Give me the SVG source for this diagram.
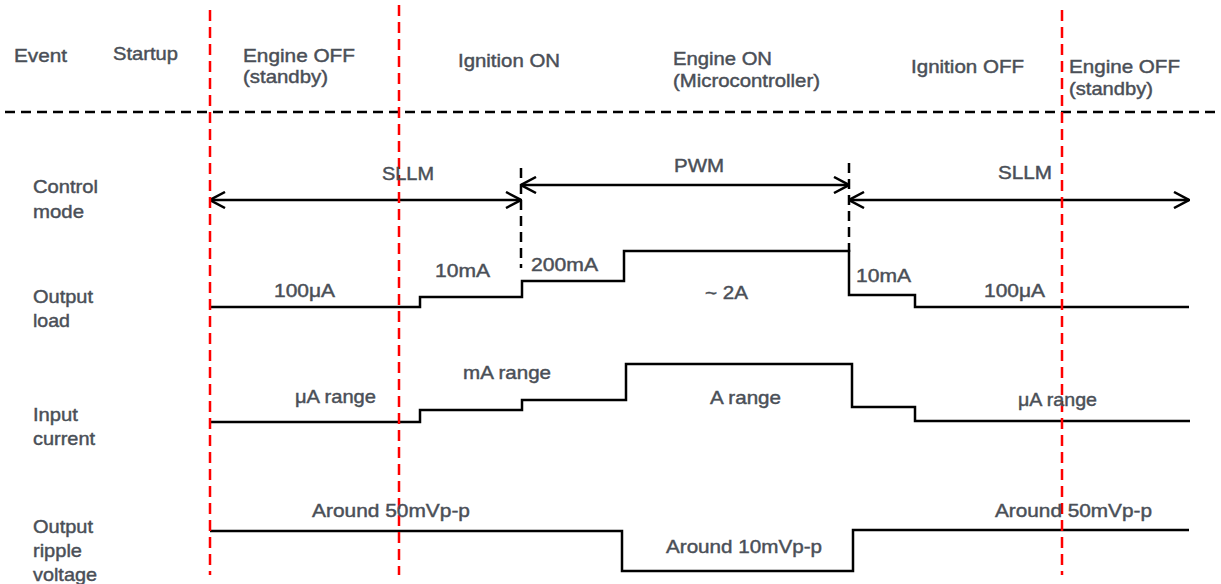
<svg xmlns="http://www.w3.org/2000/svg" width="1221" height="584" viewBox="0 0 1221 584">
<style>
text{font-family:"Liberation Sans",Arial,sans-serif;font-size:19px;fill:#4a4f57;stroke:#4a4f57;stroke-width:0.45}
.red{stroke:#ff0000;stroke-width:2.5;stroke-dasharray:11 6;fill:none}
.bd{stroke:#000;stroke-width:2.5;stroke-dasharray:10 6;fill:none}
.w{stroke:#000;stroke-width:2.5;fill:none}
.ar{stroke:#000;stroke-width:2.5;fill:none;marker-start:url(#a);marker-end:url(#a)}
</style>
<defs>
<marker id="a" viewBox="0 0 17 18" refX="16" refY="9" markerWidth="17" markerHeight="18" markerUnits="userSpaceOnUse" orient="auto-start-reverse">
<path d="M1,1 L16,9 L1,17" fill="none" stroke="#000" stroke-width="2.5"/>
</marker>
</defs>
<rect width="1221" height="584" fill="#fff"/>
<g id="header">
<text x="14" y="62" textLength="53" lengthAdjust="spacingAndGlyphs">Event</text>
<text x="113" y="60" textLength="65" lengthAdjust="spacingAndGlyphs">Startup</text>
<text x="243" y="62" textLength="112" lengthAdjust="spacingAndGlyphs">Engine OFF</text>
<text x="243" y="83" textLength="85" lengthAdjust="spacingAndGlyphs">(standby)</text>
<text x="458" y="67" textLength="102" lengthAdjust="spacingAndGlyphs">Ignition ON</text>
<text x="673" y="65" textLength="99" lengthAdjust="spacingAndGlyphs">Engine ON</text>
<text x="673" y="87" textLength="147" lengthAdjust="spacingAndGlyphs">(Microcontroller)</text>
<text x="911" y="73" textLength="113" lengthAdjust="spacingAndGlyphs">Ignition OFF</text>
<text x="1069" y="73" textLength="111" lengthAdjust="spacingAndGlyphs">Engine OFF</text>
<text x="1069" y="95" textLength="84" lengthAdjust="spacingAndGlyphs">(standby)</text>
</g>
<g id="row-labels">
<text x="33" y="193" textLength="65" lengthAdjust="spacingAndGlyphs">Control</text>
<text x="33" y="218" textLength="51" lengthAdjust="spacingAndGlyphs">mode</text>
<text x="33" y="303" textLength="60" lengthAdjust="spacingAndGlyphs">Output</text>
<text x="33" y="327" textLength="37" lengthAdjust="spacingAndGlyphs">load</text>
<text x="33" y="421" textLength="45" lengthAdjust="spacingAndGlyphs">Input</text>
<text x="33" y="445" textLength="62" lengthAdjust="spacingAndGlyphs">current</text>
<text x="33" y="533" textLength="60" lengthAdjust="spacingAndGlyphs">Output</text>
<text x="33" y="557" textLength="49" lengthAdjust="spacingAndGlyphs">ripple</text>
<text x="33" y="581" textLength="64" lengthAdjust="spacingAndGlyphs">voltage</text>
</g>
<g id="connectors">
<line class="bd" x1="5" y1="112" x2="1221" y2="112"/>
<line class="bd" x1="521" y1="168" x2="521" y2="268"/>
<line class="bd" x1="849" y1="163" x2="849" y2="252"/>
<line class="ar" x1="210" y1="200" x2="521" y2="200"/>
<line class="ar" x1="521" y1="185" x2="849" y2="185"/>
<line class="ar" x1="849" y1="200" x2="1189" y2="200"/>
<polyline class="w" points="210,307 420,307 420,297 522,297 522,281 624,281 624,251 849,251 849,295 915,295 915,307 1189,307"/>
<polyline class="w" points="210,422 420,422 420,410 522,410 522,400 626,400 626,364 852,364 852,407 915,407 915,421 1190,421"/>
<polyline class="w" points="210,531 622,531 622,571 853,571 853,530 1189,530"/>
<line class="red" x1="210" y1="10" x2="210" y2="575"/>
<line class="red" x1="399" y1="5" x2="399" y2="575"/>
<line class="red" x1="1062" y1="10" x2="1062" y2="575"/>
</g>
<g id="labels">
<text x="382" y="180" textLength="52" lengthAdjust="spacingAndGlyphs">SLLM</text>
<text x="674" y="172" textLength="50" lengthAdjust="spacingAndGlyphs">PWM</text>
<text x="998" y="179" textLength="54" lengthAdjust="spacingAndGlyphs">SLLM</text>
<text x="274" y="297" textLength="61" lengthAdjust="spacingAndGlyphs">100μA</text>
<text x="435" y="277" textLength="55" lengthAdjust="spacingAndGlyphs">10mA</text>
<text x="531" y="271" textLength="67" lengthAdjust="spacingAndGlyphs">200mA</text>
<text x="705" y="299" textLength="43" lengthAdjust="spacingAndGlyphs">~ 2A</text>
<text x="856" y="282" textLength="55" lengthAdjust="spacingAndGlyphs">10mA</text>
<text x="984" y="297" textLength="61" lengthAdjust="spacingAndGlyphs">100μA</text>
<text x="295" y="403" textLength="81" lengthAdjust="spacingAndGlyphs">μA range</text>
<text x="463" y="379" textLength="88" lengthAdjust="spacingAndGlyphs">mA range</text>
<text x="710" y="404" textLength="71" lengthAdjust="spacingAndGlyphs">A range</text>
<text x="1018" y="406" textLength="79" lengthAdjust="spacingAndGlyphs">μA range</text>
<text x="312" y="517" textLength="158" lengthAdjust="spacingAndGlyphs">Around 50mVp-p</text>
<text x="666" y="553" textLength="156" lengthAdjust="spacingAndGlyphs">Around 10mVp-p</text>
<text x="995" y="517" textLength="157" lengthAdjust="spacingAndGlyphs">Around 50mVp-p</text>
</g>
</svg>
